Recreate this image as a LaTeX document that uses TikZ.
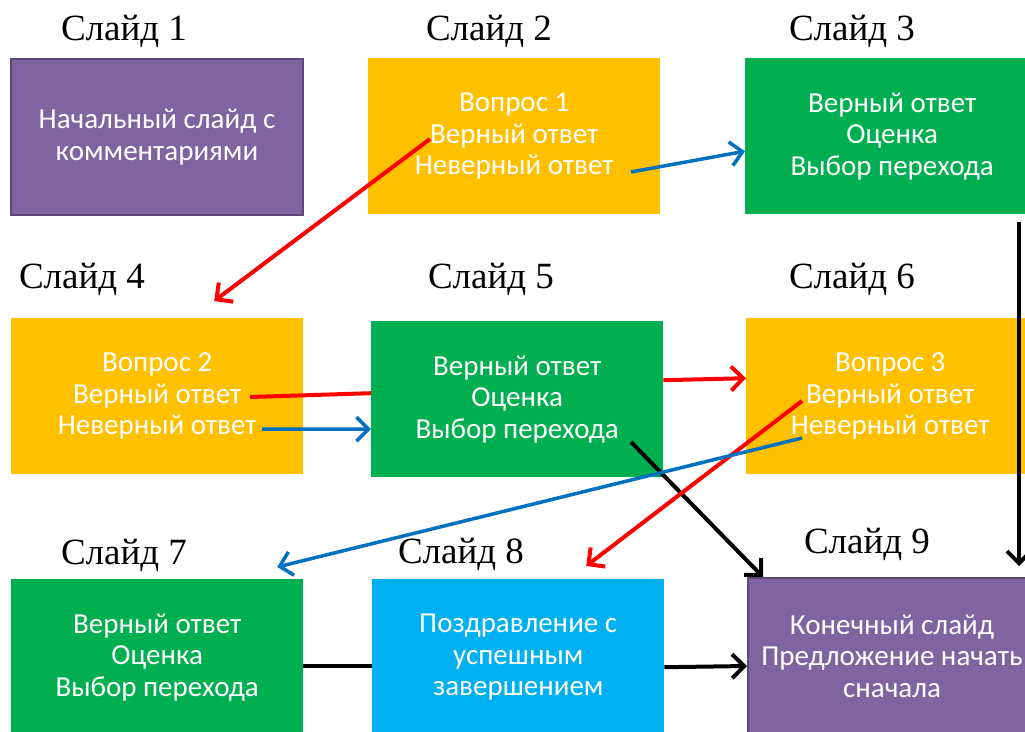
\documentclass[tikz,border=0pt]{standalone}
\usepackage{fontspec}
\setmainfont{Liberation Serif}
\newfontfamily\boxfont{Carlito}
\usetikzlibrary{
  arrows.meta,
  positioning
}
\definecolor{slidepurple}{HTML}{8064A2}
\definecolor{slideedge}{HTML}{5C4776}
\definecolor{slideorange}{HTML}{FFC000}
\definecolor{slidegreen}{HTML}{00B050}
\definecolor{slideblue}{HTML}{00B0F0}
\definecolor{linkred}{HTML}{FF0000}
\definecolor{linkblue}{HTML}{0070C0}

\begin{document}
\begin{tikzpicture}[
  x=1pt, y=-1pt,
  slide/.style={
    anchor=north west, minimum width=292pt, minimum height=156pt,
    align=center, text=white, inner sep=0pt,
    font=\boxfont\fontsize{29}{31.5}\selectfont
  },
  title/.style={anchor=base, font=\fontsize{37}{40}\selectfont},
  link/.style={line width=4pt, -{Straight Barb[length=12pt,width=24pt]}},
  plain/.style={line width=4pt}
]
\fill[white] (0,0) rectangle (1025,731);
\useasboundingbox (0,0) rectangle (1025,731);

% slides
\node[slide, fill=slidepurple, draw=slideedge, line width=2pt] (s1) at (10,58) {Начальный слайд с\\комментариями};
\node[slide, fill=slideorange] (s2) at (368,58) {Вопрос 1\\Верный ответ\\Неверный ответ};
\node[slide, fill=slidegreen, minimum width=294pt] (s3) at (745,58) {Верный ответ\\Оценка\\Выбор перехода};
\node[slide, fill=slideorange] (s4) at (11,318) {Вопрос 2\\Верный ответ\\Неверный ответ};
\node[slide, fill=slidegreen] (s5) at (371,321) {Верный ответ\\Оценка\\Выбор перехода};
\node[slide, fill=slideorange, minimum width=288pt] (s6) at (746,318) {Вопрос 3\\Верный ответ\\Неверный ответ};
\node[slide, fill=slidegreen] (s7) at (11,579) {Верный ответ\\Оценка\\Выбор перехода};
\node[slide, fill=slideblue] (s8) at (372,579) {Поздравление с\\успешным\\завершением};
\node[slide, fill=slidepurple, draw=slideedge, line width=2pt, minimum width=288pt] (s9) at (747,577) {Конечный слайд\\Предложение начать\\сначала};

% titles
\node[title] (t1) at (124,40) {Слайд 1};
\node[title] (t2) at (489,40) {Слайд 2};
\node[title] (t3) at (852,40) {Слайд 3};
\node[title] (t4) at (82,288) {Слайд 4};
\node[title] (t5) at (491,288) {Слайд 5};
\node[title] (t6) at (852,288) {Слайд 6};
\node[title] (t7) at (124,564) {Слайд 7};
\node[title] (t8) at (461,563) {Слайд 8};
\node[title] (t9) at (867,553) {Слайд 9};

% answer points
\coordinate (q1ok) at (430,139);
\coordinate (q1no) at (631,172);
\coordinate (q2ok) at (250,397);
\coordinate (q2no) at (262,429);
\coordinate (q3ok) at (802,401);
\coordinate (q3no) at (802,438);
\coordinate (s5go) at (631,442);
\coordinate (s3go) at (1019,222);
\coordinate (s9in) at (1019,566);

\draw[link, linkred] (q1ok) -- ([xshift=57pt,yshift=17pt]s4.north);
\draw[link, linkblue, line width=3.5pt] (q1no) -- ([yshift=-15pt]s3.west);
\draw[link, black] (s3go) -- (s9in);
\draw[plain, linkred] (q2ok) -- ([yshift=6pt]s5.west);
\draw[link, linkblue, line width=3.5pt] (q2no) -- ([yshift=-30pt]s5.west);
\draw[link, linkred] ([yshift=19pt]s5.east) -- ([yshift=18pt]s6.west);
\draw[link, black] (s5go) -- ([xshift=16pt]s9.north west);
\draw[link, linkred] (q3ok) -- ([xshift=68pt,yshift=13pt]s8.north);
\draw[link, linkblue, line width=3.5pt] (q3no) -- ([xshift=120pt,yshift=12pt]s7.north);
\draw[plain, black] ([yshift=-9pt]s7.east) -- ([yshift=-9pt]s8.west);
\draw[link, black] ([yshift=-10pt]s8.east) -- ([yshift=-10pt]s9.west);
\end{tikzpicture}
\end{document}
